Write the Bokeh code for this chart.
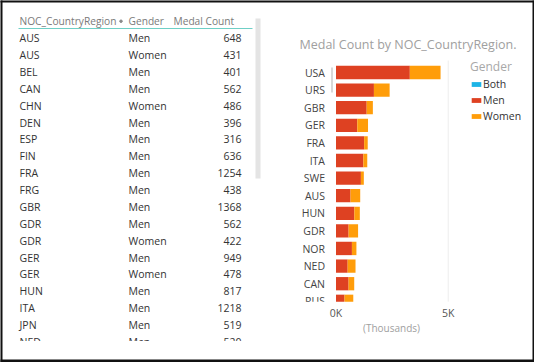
from bokeh.plotting import figure
from bokeh.models import (Range1d, LinearAxis, FixedTicker, ColumnDataSource,
                          Legend, LegendItem)
from bokeh.core.properties import value
from bokeh.embed import file_html
from bokeh.resources import INLINE

# ---------------- data ----------------
table_headers = ["NOC_CountryRegion", "Gender", "Medal Count"]
table_countries = ["AUS", "AUS", "BEL", "CAN", "CHN", "DEN", "ESP", "FIN", "FRA", "FRG",
                   "GBR", "GDR", "GDR", "GER", "GER", "HUN", "ITA", "JPN", "NED"]
table_genders = ["Men", "Women", "Men", "Men", "Women", "Men", "Men", "Men", "Men", "Men",
                 "Men", "Men", "Women", "Men", "Women", "Men", "Men", "Men", "Men"]
table_counts = [648, 431, 401, 562, 486, 396, 316, 636, 1254, 438,
                1368, 562, 422, 949, 478, 817, 1218, 519, 520]

chart_title = "Medal Count by NOC_CountryRegion."
chart_countries = ["USA", "URS", "GBR", "GER", "FRA", "ITA", "SWE",
                   "AUS", "HUN", "GDR", "NOR", "NED", "CAN", "RUS"]
both_counts = [0, 0, 0, 0, 0, 0, 0, 0, 0, 0, 0, 0, 0, 0]
men_counts = [3290, 1690, 1368, 949, 1254, 1218, 1110, 648, 817, 562, 710, 520, 562, 380]
women_counts = [1370, 700, 275, 478, 160, 175, 130, 431, 245, 422, 200, 350, 250, 390]
gender_series = ["Both", "Men", "Women"]
gender_colors = ["#1CB4E6", "#DE4122", "#FF9D0A"]
x_ticks = [0, 5000]
x_tick_labels = ["0K", "5K"]
x_axis_title = "(Thousands)"
legend_title = "Gender"

# ---------------- layout constants ----------------
FONT = "Open Sans"
W, H = 534, 362
OX, OY = 0, 0          # page offset of the figure


def px(x):
    return x - OX


def py(y):
    return y - OY


p = figure(width=W, height=H, x_range=Range1d(0, W), y_range=Range1d(H, 0),
           output_backend="svg", toolbar_location=None, min_border=0,
           x_axis_type=None, y_axis_type=None, outline_line_color=None,
           background_fill_color="white", border_fill_color="white")

# value / category scales for the bar chart
zero_x = px(335.5)
five_x = px(447.7)
ppu = (five_x - zero_x) / x_ticks[-1]
row0_y = py(72.0)
step = 17.6
p.extra_x_ranges = {"val": Range1d(-zero_x / ppu, (W - zero_x) / ppu)}
p.extra_y_ranges = {"cat": Range1d((H - row0_y) / step, -row0_y / step)}
frame_bottom = py(301.3)

# ---------------- table ----------------
n_rows = len(table_countries)
row_y = [py(37.7 + 16.87 * i) for i in range(n_rows)]
tsrc = ColumnDataSource(dict(y=row_y, country=table_countries, gender=table_genders,
                             count=[str(c) for c in table_counts]))
cell_kw = dict(text_baseline="middle", text_font=value(FONT), text_font_size="10.5px",
               text_color="#333333")
p.text(x=px(19), y="y", text="country", source=tsrc, text_align="left", **cell_kw)
p.text(x=px(128), y="y", text="gender", source=tsrc, text_align="left", **cell_kw)
p.text(x=px(241), y="y", text="count", source=tsrc, text_align="right", **cell_kw)

p.text(x=[px(19), px(128), px(173)], y=[py(20.5)] * 3, text=table_headers,
       text_align="left", text_baseline="middle", text_font=value(FONT),
       text_font_size="10.2px", text_color="#7A7A7A")
p.scatter(x=[px(120.5)], y=[py(20.7)], size=2.5, marker="circle", color="#8A8A8A")
p.segment(x0=[px(18)], x1=[px(252)], y0=[py(28)], y1=[py(28)],
          line_color="#6FCFC6", line_width=1)
# clip bottom of table
p.quad(left=[2], right=[px(262)], top=[py(340.5)], bottom=[H - 3],
       fill_color="white", line_color=None)
# table scrollbar
p.quad(left=[px(255)], right=[px(260)], top=[py(18)], bottom=[py(178)],
       fill_color="#E4E4E4", line_color=None)

# ---------------- chart ----------------
p.text(x=[px(299)], y=[py(44)], text=[chart_title], text_align="left",
       text_baseline="middle", text_font=value(FONT), text_font_size="12.5px",
       text_color="#A0A0A0")

p.segment(x0=[x_ticks[-1]], x1=[x_ticks[-1]], y0=[py(60)], y1=[frame_bottom],
          x_range_name="val", line_color="#EDEDED", line_width=1)

csrc = ColumnDataSource(dict(idx=list(range(len(chart_countries))), country=chart_countries,
                             Both=both_counts, Men=men_counts, Women=women_counts))
bars = p.hbar_stack(gender_series, y="idx", height=0.755, color=gender_colors,
                    line_color=None, source=csrc, x_range_name="val", y_range_name="cat")

# clip bars below the plot area
p.quad(left=[px(330)], right=[px(468)], top=[frame_bottom], bottom=[py(311)],
       fill_color="white", line_color=None)
# chart scroll indicator
p.quad(left=[px(330.5)], right=[px(332.5)], top=[py(67)], bottom=[py(92)],
       fill_color="#D8D8D8", line_color=None)

yaxis = LinearAxis(y_range_name="cat", fixed_location=zero_x,
                   ticker=FixedTicker(ticks=list(range(len(chart_countries)))),
                   major_label_overrides={i: c for i, c in enumerate(chart_countries)},
                   axis_line_color=None, major_tick_line_color=None,
                   minor_tick_line_color=None, major_tick_out=0, major_tick_in=0,
                   major_label_standoff=11, major_label_text_font=FONT,
                   major_label_text_font_size="10.5px", major_label_text_color="#444444")
p.add_layout(yaxis, "left")

xaxis = LinearAxis(x_range_name="val", fixed_location=frame_bottom,
                   ticker=FixedTicker(ticks=x_ticks),
                   major_label_overrides=dict(zip(x_ticks, x_tick_labels)),
                   axis_line_color=None, major_tick_line_color=None,
                   minor_tick_line_color=None, major_tick_out=0, major_tick_in=0,
                   major_label_standoff=4, major_label_text_font=FONT,
                   major_label_text_font_size="10.5px", major_label_text_color="#555555")
p.add_layout(xaxis, "below")

p.text(x=[px(391)], y=[py(327)], text=[x_axis_title], text_align="center",
       text_baseline="middle", text_font=value(FONT), text_font_size="10px",
       text_color="#A0A0A0")

# hide the lower half of the last category label like the clipped original
p.quad(left=[px(296)], right=[px(328)], top=[frame_bottom], bottom=[py(309)],
       fill_color="white", line_color=None, level="overlay")

legend = Legend(items=[LegendItem(label=g, renderers=[r]) for g, r in zip(gender_series, bars)],
                location=(px(470), H - py(124)), title=legend_title,
                title_text_font=FONT, title_text_font_size="12px",
                title_text_font_style="normal", title_text_color="#A8A8A8",
                title_standoff=1, label_text_font=FONT, label_text_font_size="10.5px",
                label_text_color="#333333", glyph_width=12, glyph_height=6,
                label_standoff=1, label_height=16, spacing=0, padding=0, margin=0,
                border_line_color=None, background_fill_alpha=0)
p.add_layout(legend)

# ---------------- outer frame ----------------
p.quad(left=[0, 0, 0, W - 2], right=[W, W, 2, W], top=[0, H - 3, 0, 0], bottom=[2, H, H, H],
       fill_color="#111111", line_color=None, level="overlay")

open("out.html", "w").write(file_html(p, INLINE))
